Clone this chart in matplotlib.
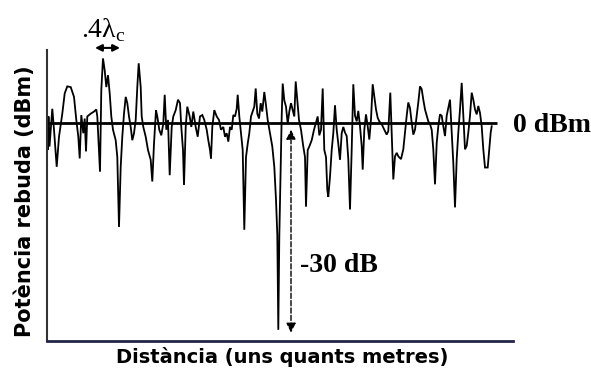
import numpy as np
import matplotlib
matplotlib.use("Agg")
import matplotlib.pyplot as plt

# Received power trace (dB relative to the mean level) against distance
# (distance units: 25 units = 0.4 wavelength)
dist = [0.0, 0.7, 1.5, 2.5, 5.3, 7.0, 9.7, 12.0, 15.3, 17.7, 20.3, 23.7, 27.0, 29.3,
        31.3, 32.7, 34.3, 36.3, 37.7, 39.0, 40.3, 43.7, 47.0, 49.3, 50.3, 51.3, 53.0,
        54.3, 56.0, 57.7, 59.3, 61.0, 62.7, 64.3, 66.0, 68.7, 70.3, 72.0, 73.7, 75.3,
        77.0, 78.7, 80.3, 82.0, 83.7, 85.3, 87.0, 88.7, 90.3, 91.7, 93.7, 94.7, 96.3,
        98.7, 101.0, 103.7, 105.3, 107.0, 109.0, 110.3, 112.3, 114.3, 116.3, 117.7,
        119.3, 121.0, 122.7, 124.7, 126.3, 128.7, 131.0, 133.0, 134.3, 136.0, 137.0,
        138.7, 140.3, 142.7, 144.3, 146.3, 148.7,
        150.7, 153.0, 155.3, 157.3, 159.7, 161.3, 163.0, 164.0, 165.3, 167.3, 169.7,
        172.0, 174.0, 176.3, 178.0, 179.7, 181.3, 183.0, 184.7, 186.3, 188.0, 189.7,
        190.7, 192.3, 194.0, 195.7, 197.3, 199.0, 200.7, 202.3, 204.0, 205.7, 207.3,
        208.7, 210.3, 212.0, 213.7, 215.3, 217.3, 219.0, 220.7, 223.0, 225.3, 227.3,
        229.0, 230.3, 231.3, 232.3, 233.7, 234.7, 235.7, 237.3, 239.0, 240.7, 242.3,
        244.0, 245.7, 247.3, 248.7, 250.3, 252.0, 254.0, 256.3, 258.0, 259.0, 260.7,
        262.3, 264.7, 267.0, 268.7, 270.7, 272.3, 274.0, 275.7, 277.3, 279.0, 280.3,
        281.3, 283.0, 284.7, 286.3, 288.0, 289.7, 291.3, 293.0, 294.7, 296.3,
        298.0, 299.7, 301.3, 303.0, 304.7, 306.3, 308.0, 309.7, 311.3, 313.0, 314.7,
        315.7, 317.3, 319.0, 320.7, 322.3, 324.0, 325.7, 327.3, 329.0, 330.7, 332.3,
        334.7, 337.3, 339.7, 341.3, 343.3, 344.7, 346.3, 348.0, 349.7, 351.3, 354.0,
        356.3, 358.0, 359.7, 361.3, 363.0, 364.7, 366.3, 368.0, 369.7, 371.3, 373.0,
        374.7, 376.3, 378.0, 379.7, 381.3, 383.0, 384.7, 386.3, 388.0, 389.7, 391.3,
        393.0, 394.7, 396.3, 398.0, 399.7, 401.3, 403.0, 404.7, 406.3, 408.0, 409.7,
        411.3, 413.0, 414.7, 416.3, 418.0, 419.7, 421.3, 423.0, 424.7, 426.3, 428.0,
        429.7, 431.3, 433.0, 434.7, 436.3, 438.0, 440.7, 442.3, 443.7, 444.7]
power_db = [0.4, -3.9, 0.9, -3.4, 2.0, -1.0, -6.3, -2.0, 1.3, 4.2, 5.2, 5.1, 3.7, 0.4,
            -2.0, -5.1, 1.1, -1.5, 0.6, -4.1, 0.9, 1.3, 1.6, 1.9, 0.9, -2.0, -7.0,
            4.7, 9.2, 7.5, 5.1, 6.8, 4.2, 0.9, -1.0, -2.5, -4.9, -14.9, -6.3, -2.0,
            1.3, 3.7, 2.8, 0.9, -0.6, -2.5, -1.5, 0.4, 5.1, 8.5, 5.1, 0.9, -0.6,
            -2.0, -3.9, -5.3, -8.4, -3.0, 1.8, 0.9, -1.0, -1.8, -0.1, 4.0,
            -1.0, 0.4, -7.5, -0.6, 0.9, 1.8, 3.3, 2.8, -0.6, -3.9, -8.9,
            -0.6, 2.3, 0.9, -0.6, 1.6, -0.6,
            -2.0, 0.9, 1.1, 0.4, -1.0, -2.5, -3.9, -5.1, -0.6, 1.8, 0.9,
            0.4, -1.0, -0.6, -2.0, -1.5, -2.7, -0.6, -1.0, 1.1, 0.9, 2.0,
            4.0, 0.9, -1.5, -3.9, -15.3, -4.9, -3.0, -1.5, 0.9, 1.6, 2.3,
            4.9, 1.3, 0.6, 2.8, 1.6, 4.4, 2.5, 0.4, -1.5, -3.4, -6.3,
            -11.0, -16.0, -29.6, -16.3, -6.3, 0.9, 5.6, 3.2, 2.3, -0.1, 1.6,
            2.8, 1.8, 0.9, 5.9, 3.2, 0.4, -1.0, -3.4, -4.9, -12.0, -3.9,
            -3.4, -2.5, -1.0, -0.1, 0.9, -1.8, -1.0, 4.9, -3.9, -4.9, -9.6,
            -10.6, -7.7, -3.9, -1.5, 2.5, -1.0, -3.0, -5.3, -1.5, -0.6,
            -1.4, -1.9, -5.2, -12.4, -3.8, 5.5, 1.0, 0.2, 1.7, -0.5, -3.3,
            -6.7, -1.0, 1.2, -0.5, -2.4, 0.5, 5.5, 3.8, 1.9, 0.7, 0.2,
            -0.2, -1.0, -1.7, -1.2, 4.3, -1.4, -8.1, -4.8, -4.3, -4.8, -5.2,
            -3.8, -1.4, 1.0, 2.9, 2.1, 0.0, -1.7, -1.0, 1.0, 2.9, 5.2,
            4.8, 3.3, 1.9, 1.0, 0.2, -0.2, -1.0, -3.8, -8.8, -2.9, -0.5,
            1.2, 1.0, -0.5, -1.9, 1.0, 2.1, 3.3, -1.4, -5.7, -12.1, -5.2,
            -1.4, 1.9, 5.7, 1.0, -3.8, -3.3, -1.4, 1.0, 4.3, 3.3, 1.9,
            1.2, 2.4, 1.4, -0.5, -3.8, -6.4, -6.4, -3.8, -1.4, -0.5]

REF_DBM = 0.0          # mean received level
REF_LINE_END = 450.0   # reference line length
FADE_X = 244.0         # position of the deep fade marker
FADE_TOP = -1.0
FADE_DEPTH = -30.0
SPACING_START = 48.0   # 0.4 lambda_c spacing marker
SPACING_END = 73.0
SPACING_Y = 10.7

plt.rcParams['mathtext.fontset'] = 'custom'
plt.rcParams['mathtext.rm'] = 'Liberation Serif'

fig = plt.figure(figsize=(5.91, 3.74), dpi=100, facecolor='w')
ax = fig.add_axes([47/591, 1-341/374, 466/591, 291/374])

ax.plot(dist, power_db, color='k', lw=1.3, solid_joinstyle='miter')
ax.hlines(REF_DBM, 0, REF_LINE_END, color='k', lw=2.0)

# deep fade arrow
ax.annotate('', xy=(FADE_X, FADE_DEPTH), xytext=(FADE_X, FADE_TOP),
            arrowprops=dict(arrowstyle='<|-|>', lw=1.0, ls='--', color='k',
                            mutation_scale=14, shrinkA=0, shrinkB=0))
# spacing arrow
ax.annotate('', xy=(SPACING_END, SPACING_Y), xytext=(SPACING_START, SPACING_Y),
            arrowprops=dict(arrowstyle='<|-|>', lw=1.5, color='k',
                            mutation_scale=10, shrinkA=0, shrinkB=0),
            annotation_clip=False)

ax.set_xlim(0, 466)
ax.set_ylim(-31.2, 10.4)
ax.set_xticks([])
ax.set_yticks([])
ax.spines['top'].set_visible(False)
ax.spines['right'].set_visible(False)
ax.spines['bottom'].set_color('#25254a')
ax.spines['bottom'].set_linewidth(2.0)
ax.spines['left'].set_color('#333333')
ax.spines['left'].set_linewidth(1.5)

serif = 'Liberation Serif'
fig.text(513/591, 1-125/374, '0 dBm', family=serif, weight='bold', fontsize=20,
         ha='left', va='center')
fig.text(300/591, 1-265/374, '-30 dB', family=serif, weight='bold', fontsize=20,
         ha='left', va='center')
fig.text(81/591, 1-30/374, '.4λ$_\\mathrm{c}$', family=serif, fontsize=20,
         ha='left', va='center')

fig.text(282/591, 1-357/374, 'Distància (uns quants metres)', family='DejaVu Sans',
         weight='bold', fontsize=14, ha='center', va='center')
fig.text(25/591, 1-201/374, 'Potència rebuda (dBm)', family='DejaVu Sans',
         weight='bold', fontsize=15, ha='center', va='center', rotation=90)

fig.savefig('out.png', dpi=100)
